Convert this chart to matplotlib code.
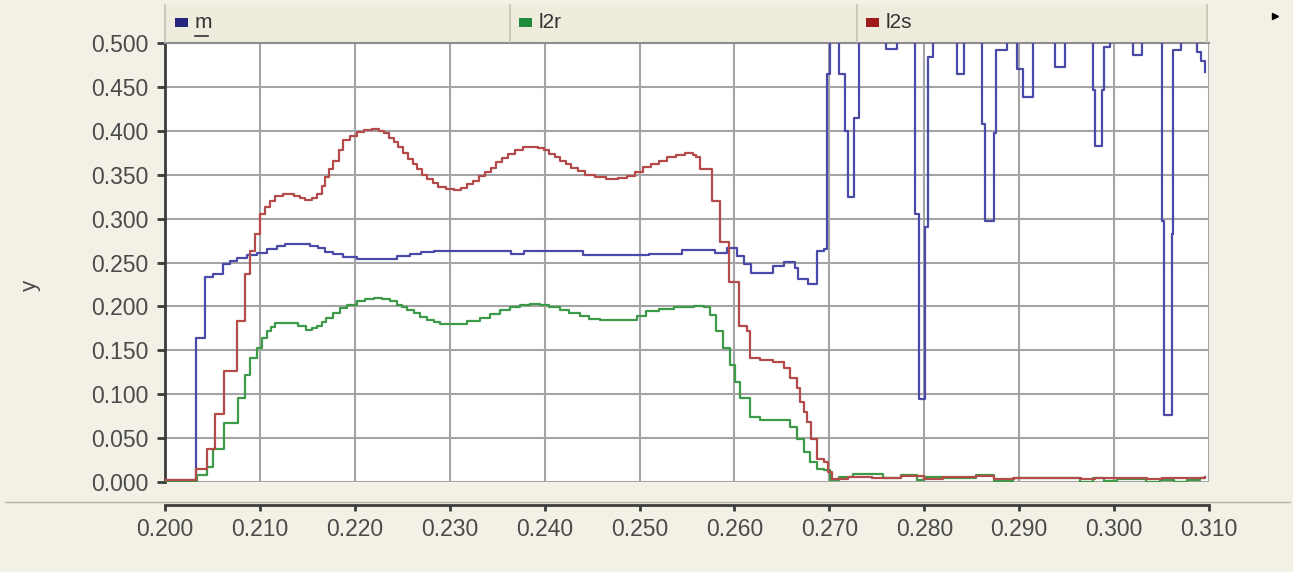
import numpy as np
import matplotlib.pyplot as plt
from matplotlib.patches import Rectangle
from matplotlib.lines import Line2D

plt.rcParams['font.family'] = ['Liberation Sans', 'DejaVu Sans']

# series "m" (step data, values above 0.5 run off the top of the plot)
m_x = [0.2000, 0.2033, 0.2042, 0.2051, 0.2061, 0.2069, 0.2076, 0.2086, 0.2097,
       0.2107, 0.2118, 0.2126, 0.2135, 0.2145, 0.2153, 0.2161, 0.2169, 0.2177,
       0.2188, 0.2202, 0.2230, 0.2244, 0.2258, 0.2270, 0.2283, 0.2365, 0.2378,
       0.2440, 0.2510, 0.2545, 0.2580, 0.2592, 0.2603, 0.2610, 0.2617, 0.2641,
       0.2652, 0.2664, 0.2667, 0.2677, 0.2687, 0.2694, 0.2698, 0.2701, 0.2710,
       0.2717, 0.2720, 0.2726, 0.2731, 0.2760, 0.2771, 0.2790, 0.2794, 0.2801,
       0.2804, 0.2809, 0.2834, 0.2842, 0.2861, 0.2864, 0.2873, 0.2876, 0.2887,
       0.2898, 0.2904, 0.2915, 0.2938, 0.2948, 0.2978, 0.2980, 0.2987, 0.2989,
       0.2996, 0.3020, 0.3029, 0.3050, 0.3053, 0.3061, 0.3062, 0.3071, 0.3087,
       0.3092, 0.3096]
m_y = [0.002, 0.164, 0.233, 0.237, 0.248, 0.252, 0.2555, 0.258, 0.261,
       0.265, 0.269, 0.271, 0.2715, 0.271, 0.269, 0.266, 0.262, 0.2594,
       0.256, 0.2536, 0.2545, 0.257, 0.2594, 0.2615, 0.263, 0.2594, 0.263,
       0.2586, 0.2594, 0.264, 0.261, 0.267, 0.2574, 0.248, 0.2384, 0.246,
       0.2506, 0.244, 0.2307, 0.2258, 0.263, 0.265, 0.465, 0.56, 0.465,
       0.400, 0.325, 0.415, 0.56, 0.493, 0.56, 0.305, 0.095, 0.290,
       0.484, 0.56, 0.465, 0.56, 0.408, 0.2975, 0.397, 0.492, 0.56,
       0.470, 0.4386, 0.56, 0.473, 0.56, 0.446, 0.383, 0.446, 0.496,
       0.56, 0.486, 0.56, 0.2975, 0.0763, 0.282, 0.492, 0.56, 0.490,
       0.480, 0.467]

# series "l2r"
l2r_x = [0.2000, 0.2034, 0.2044, 0.2051, 0.2062, 0.2077, 0.2084, 0.2090, 0.2097,
         0.2102, 0.2107, 0.2112, 0.2116, 0.2132, 0.2140, 0.2149, 0.2155, 0.2160,
         0.2165, 0.2170, 0.2177, 0.2184, 0.2192, 0.2202, 0.2211, 0.2220, 0.2229,
         0.2237, 0.2244, 0.2250, 0.2255, 0.2262, 0.2269, 0.2276, 0.2283, 0.2290,
         0.2305, 0.2318, 0.2332, 0.2342, 0.2353, 0.2363, 0.2374, 0.2385, 0.2395,
         0.2405, 0.2416, 0.2426, 0.2437, 0.2447, 0.2458, 0.2487, 0.2497, 0.2507,
         0.2521, 0.2536, 0.2557, 0.2568, 0.2574, 0.2581, 0.2588, 0.2595, 0.2601,
         0.2606, 0.2616, 0.2627, 0.2652, 0.2659, 0.2666, 0.2673, 0.2680, 0.2687,
         0.2694, 0.2701, 0.2710, 0.2725, 0.2757, 0.2775, 0.2792, 0.2800, 0.2820,
         0.2855, 0.2873, 0.2894, 0.2964, 0.2978, 0.2989, 0.3003, 0.3034, 0.3048,
         0.3063, 0.3077, 0.3090, 0.3096]
l2r_y = [0.001, 0.0076, 0.0172, 0.038, 0.0667, 0.0953, 0.122, 0.141, 0.1525,
         0.164, 0.1716, 0.177, 0.181, 0.181, 0.178, 0.1735, 0.175, 0.178,
         0.182, 0.1869, 0.192, 0.1983, 0.202, 0.206, 0.2085, 0.2097, 0.208,
         0.206, 0.202, 0.199, 0.1964, 0.192, 0.188, 0.185, 0.182, 0.180,
         0.180, 0.183, 0.1869, 0.191, 0.1964, 0.199, 0.2021, 0.2025, 0.2015,
         0.199, 0.1964, 0.192, 0.1888, 0.186, 0.185, 0.185, 0.189, 0.1945,
         0.197, 0.199, 0.2002, 0.199, 0.1907, 0.1716, 0.1525, 0.1335, 0.1144,
         0.0953, 0.0744, 0.0706, 0.0706, 0.0629, 0.0495, 0.0343, 0.0229, 0.0152,
         0.0133, 0.002, 0.006, 0.009, 0.005, 0.008, 0.002, 0.006, 0.005,
         0.008, 0.001, 0.004, 0.000, 0.004, 0.001, 0.003, 0.000, 0.002,
         0.000, 0.002, 0.005, 0.006]

# series "l2s"
l2s_x = [0.2000, 0.2033, 0.2044, 0.2053, 0.2062, 0.2076, 0.2084, 0.2090, 0.2095,
         0.2100, 0.2105, 0.2111, 0.2116, 0.2124, 0.2136, 0.2142, 0.2148, 0.2155,
         0.2160, 0.2165, 0.2169, 0.2173, 0.2177, 0.2183, 0.2188, 0.2195, 0.2202,
         0.2210, 0.2218, 0.2226, 0.2231, 0.2236, 0.2241, 0.2246, 0.2251, 0.2256,
         0.2261, 0.2266, 0.2271, 0.2276, 0.2282, 0.2288, 0.2296, 0.2304, 0.2312,
         0.2318, 0.2325, 0.2331, 0.2337, 0.2343, 0.2349, 0.2355, 0.2361, 0.2369,
         0.2377, 0.2385, 0.2393, 0.2399, 0.2405, 0.2411, 0.2416, 0.2422, 0.2428,
         0.2435, 0.2443, 0.2453, 0.2465, 0.2477, 0.2487, 0.2495, 0.2504, 0.2512,
         0.2520, 0.2529, 0.2538, 0.2548, 0.2556, 0.2560, 0.2564, 0.2576, 0.2585,
         0.2594, 0.2598, 0.2605, 0.2613, 0.2616, 0.2627, 0.2641, 0.2652, 0.2659,
         0.2666, 0.2669, 0.2673, 0.2676, 0.2681, 0.2687, 0.2694, 0.2699, 0.2703,
         0.2720, 0.2745, 0.2775, 0.2800, 0.2820, 0.2855, 0.2873, 0.2895, 0.2965,
         0.2980, 0.2990, 0.3035, 0.3050, 0.3080, 0.3096]
l2s_y = [0.002, 0.015, 0.038, 0.078, 0.126, 0.183, 0.2365, 0.263, 0.282,
         0.305, 0.3127, 0.320, 0.326, 0.328, 0.326, 0.324, 0.321, 0.323,
         0.328, 0.337, 0.347, 0.356, 0.366, 0.378, 0.389, 0.394, 0.3985,
         0.401, 0.402, 0.400, 0.397, 0.392, 0.387, 0.381, 0.375, 0.368,
         0.362, 0.356, 0.350, 0.345, 0.340, 0.336, 0.334, 0.3326, 0.335,
         0.339, 0.343, 0.348, 0.353, 0.358, 0.364, 0.369, 0.374, 0.378,
         0.381, 0.382, 0.380, 0.3776, 0.374, 0.370, 0.366, 0.362, 0.358,
         0.354, 0.350, 0.347, 0.345, 0.346, 0.349, 0.353, 0.3585, 0.362,
         0.366, 0.370, 0.373, 0.3745, 0.373, 0.370, 0.3566, 0.320, 0.273,
         0.2275, 0.2275, 0.1773, 0.1716, 0.141, 0.139, 0.137, 0.1296, 0.118,
         0.1067, 0.0915, 0.080, 0.0686, 0.0495, 0.0267, 0.0229, 0.0114, 0.003,
         0.006, 0.004, 0.007, 0.003, 0.006, 0.007, 0.003, 0.005, 0.003,
         0.005, 0.004, 0.003, 0.004, 0.004, 0.006]

names = ["m", "l2r", "l2s"]
line_colors = ["#4a4aa8", "#3c9a48", "#b44a4a"]
key_colors = ["#26267e", "#1e8c3c", "#a01c1c"]
x_ticks = [0.200, 0.210, 0.220, 0.230, 0.240, 0.250, 0.260, 0.270, 0.280, 0.290, 0.300, 0.310]
y_ticks = [0.000, 0.050, 0.100, 0.150, 0.200, 0.250, 0.300, 0.350, 0.400, 0.450, 0.500]

W, H = 1293, 572
BG = "#f3f1e6"
DARK = "#3c3c3c"
TEXT = "#4a4a4a"

fig = plt.figure(figsize=(W / 100, H / 100), dpi=100, facecolor=BG)
ax = fig.add_axes([165 / W, 1 - 482 / H, 1044 / W, 439 / H])
ax.set_facecolor("white")

for xs, ys, c in zip([m_x, l2r_x, l2s_x], [m_y, l2r_y, l2s_y], line_colors):
    ax.plot(xs, ys, drawstyle="steps-post", color=c, lw=1.6, zorder=3)

ax.set_xlim(0.2, 0.31)
ax.set_ylim(0.0, 0.5)
ax.set_xticks(x_ticks)
ax.set_yticks(y_ticks)
ax.xaxis.set_major_formatter(plt.FormatStrFormatter("%.3f"))
ax.yaxis.set_major_formatter(plt.FormatStrFormatter("%.3f"))
ax.grid(True, color="#a4a4a4", lw=1.5, zorder=1)
ax.set_axisbelow(True)

ax.spines["right"].set_visible(False)
ax.spines["top"].set_color("#8c8c8c")
ax.spines["top"].set_linewidth(1.5)
for side in ["left", "bottom"]:
    ax.spines[side].set_color(DARK)
    ax.spines[side].set_linewidth(2)
ax.spines["bottom"].set_position(("outward", 16.5))
ax.tick_params(axis="y", direction="out", length=6, width=2, color=DARK,
               labelsize=16.5, labelcolor=TEXT, pad=6)
ax.tick_params(axis="x", direction="out", length=4.5, width=2, color=DARK,
               labelsize=16.5, labelcolor=TEXT, pad=5)

fig.text(30 / W, 1 - 285 / H, "y", rotation=90, ha="center", va="center",
         fontsize=16, color=TEXT)

# thin separator running across the whole figure above the x axis
fig.add_artist(Line2D([5 / W, 1290 / W], [1 - 501.5 / H] * 2, color="#b4b2a8",
                      lw=1.0, transform=fig.transFigure))

# legend strip above the plot
fig.add_artist(Rectangle((165 / W, 1 - 42 / H), 1042 / W, 37 / H,
                         facecolor="#eeecdc", edgecolor="none",
                         transform=fig.transFigure, zorder=0))
for xd in [165, 510, 857, 1207]:
    fig.add_artist(Line2D([xd / W] * 2, [1 - 42 / H, 1 - 5 / H], color="#c4c2b4",
                          lw=1.2, transform=fig.transFigure))
key_x = [175, 519, 866]
for kx, name, kc in zip(key_x, names, key_colors):
    fig.add_artist(Rectangle((kx / W, 1 - 27 / H), 13 / W, 9 / H, facecolor=kc,
                             edgecolor="none", transform=fig.transFigure))
    fig.text((kx + 20) / W, 1 - 22 / H, name, ha="left", va="center",
             fontsize=15, color="#333333")
# the active series is underlined
fig.add_artist(Line2D([195 / W, 208 / W], [1 - 36 / H] * 2, color="#333333",
                      lw=1.2, transform=fig.transFigure))
fig.add_artist(Line2D([1275 / W], [1 - 16 / H], marker=">", ms=5, color="black",
                      transform=fig.transFigure))

fig.savefig("out.png", dpi=100, facecolor=BG)
